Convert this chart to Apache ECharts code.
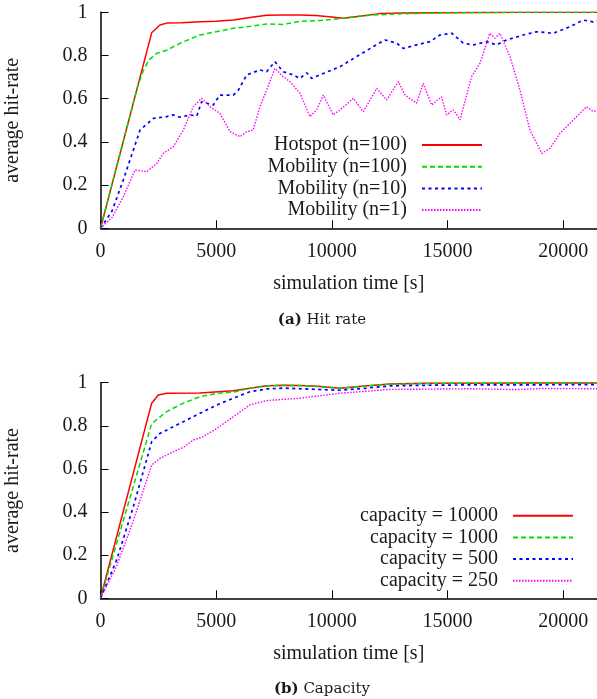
<!DOCTYPE html>
<html>
<head>
<meta charset="utf-8">
<script src="https://cdn.jsdelivr.net/npm/echarts@6/dist/echarts.min.js"></script>
<style>
  html, body { margin: 0; padding: 0; background: #fff; }
  #main { width: 597px; height: 699px; }
</style>
</head>
<body>
<div id="main"></div>
<script>
// x ticks shared by both panels
var xTicks = [0, 5000, 10000, 15000, 20000];
var xMax = 21460;

// (a) hit rate
var hotT = [0, 2212, 2570, 2860, 3500, 4300, 5000, 5740, 6460, 7180, 7900, 8600, 9300, 10000, 10480, 11200, 12150, 13000, 14500, 16000, 18000, 21460];
var hotV = [0, 0.905, 0.941, 0.950, 0.952, 0.956, 0.958, 0.964, 0.976, 0.986, 0.987, 0.987, 0.985, 0.978, 0.972, 0.982, 0.995, 0.997, 0.998, 0.999, 1.0, 1.0];

var mob100T = [0, 1600, 1850, 2100, 2430, 2860, 3500, 4300, 5000, 5740, 6500, 7180, 7900, 8620, 9500, 10500, 11650, 13000, 15000, 18000, 21460];
var mob100V = [0, 0.655, 0.73, 0.78, 0.81, 0.824, 0.86, 0.895, 0.91, 0.926, 0.935, 0.946, 0.944, 0.958, 0.962, 0.972, 0.987, 0.993, 0.998, 1.0, 1.0];

var mob10T = [0, 500, 985, 1710, 2280, 2860, 3140, 3440, 3870, 4160, 4370, 4875, 5160, 5740, 5960, 6320, 6890, 7180, 7540, 7900, 8330, 8620, 8910, 9130, 9630, 10350, 11070, 11790, 12290, 12800, 13090, 13660, 14240, 14670, 15180, 15680, 16110, 16690, 17120, 17550, 18270, 18850, 19570, 20290, 20860, 21300, 21460];
var mob10V = [0, 0.08, 0.224, 0.455, 0.509, 0.517, 0.525, 0.514, 0.525, 0.52, 0.586, 0.571, 0.617, 0.617, 0.64, 0.71, 0.733, 0.725, 0.771, 0.725, 0.71, 0.694, 0.72, 0.694, 0.717, 0.748, 0.795, 0.841, 0.872, 0.857, 0.833, 0.849, 0.864, 0.895, 0.903, 0.857, 0.849, 0.864, 0.849, 0.872, 0.895, 0.91, 0.903, 0.933, 0.964, 0.956, 0.96];

var mob1T = [0, 500, 985, 1490, 2000, 2430, 2710, 3150, 3580, 4010, 4370, 4730, 5160, 5600, 6030, 6320, 6600, 6890, 7180, 7540, 7900, 8190, 8620, 9050, 9340, 9630, 10060, 10350, 10930, 11360, 11940, 12370, 12870, 13160, 13660, 13950, 14310, 14740, 14960, 15250, 15540, 16040, 16400, 16830, 17050, 17260, 17700, 18130, 18560, 19070, 19430, 19860, 20290, 20720, 21010, 21300, 21460];
var mob1V = [0, 0.05, 0.146, 0.27, 0.262, 0.30, 0.347, 0.378, 0.455, 0.563, 0.602, 0.563, 0.532, 0.447, 0.424, 0.447, 0.455, 0.563, 0.64, 0.74, 0.702, 0.679, 0.625, 0.517, 0.548, 0.617, 0.525, 0.548, 0.602, 0.54, 0.648, 0.594, 0.679, 0.617, 0.579, 0.671, 0.571, 0.609, 0.525, 0.548, 0.502, 0.702, 0.764, 0.903, 0.88, 0.903, 0.795, 0.64, 0.455, 0.347, 0.37, 0.44, 0.486, 0.532, 0.563, 0.54, 0.545];

// (b) capacity
var cap10000T = [0, 2212, 2500, 2860, 4300, 5740, 6460, 7180, 7900, 8620, 9400, 10350, 11400, 12510, 14000, 16000, 19000, 21460];
var cap10000V = [0, 0.905, 0.943, 0.951, 0.952, 0.963, 0.974, 0.986, 0.988, 0.987, 0.984, 0.974, 0.985, 0.994, 0.997, 0.998, 0.999, 0.999];

var cap1000T = [0, 2212, 2860, 3580, 4300, 5030, 5740, 6460, 7180, 8000, 9000, 10350, 11500, 12500, 15000, 21460];
var cap1000V = [0, 0.81, 0.866, 0.905, 0.935, 0.951, 0.956, 0.974, 0.985, 0.988, 0.985, 0.974, 0.985, 0.993, 0.997, 0.998];

var cap500T = [0, 700, 1420, 2212, 2570, 3580, 4300, 5030, 5740, 6460, 7180, 7900, 8620, 10350, 11500, 12510, 14000, 16000, 18000, 21460];
var cap500V = [0, 0.178, 0.425, 0.726, 0.765, 0.819, 0.858, 0.897, 0.928, 0.958, 0.971, 0.975, 0.972, 0.965, 0.975, 0.985, 0.988, 0.99, 0.99, 0.991];

var cap250T = [0, 700, 1420, 2212, 2570, 3150, 3580, 4010, 4440, 5030, 5740, 6460, 7180, 8620, 10350, 12510, 14000, 16000, 18000, 19000, 21460];
var cap250V = [0, 0.15, 0.36, 0.618, 0.649, 0.68, 0.70, 0.734, 0.75, 0.788, 0.842, 0.897, 0.917, 0.928, 0.951, 0.969, 0.970, 0.972, 0.968, 0.973, 0.972];

function zip(t, v) {
  return t.map(function (x, i) { return [x, v[i]]; });
}

var serif = 'Liberation Serif';
var ink = '#1a1a1a';

function xAxisFor(gridIndex) {
  return {
    type: 'value', gridIndex: gridIndex, min: 0, max: xMax,
    name: 'simulation time [s]', nameLocation: 'middle', nameGap: 45,
    nameTextStyle: { fontFamily: serif, fontSize: 20, color: ink },
    axisLine: { lineStyle: { color: '#000', width: 1.5 } },
    axisTick: { inside: true, length: 8, customValues: xTicks, lineStyle: { color: '#000', width: 1 } },
    axisLabel: {
      customValues: xTicks, margin: 13, fontFamily: serif, fontSize: 20, color: ink,
      formatter: function (v) { return String(v); }
    },
    splitLine: { show: false }
  };
}

function yAxisFor(gridIndex) {
  return {
    type: 'value', gridIndex: gridIndex, min: 0, max: 1, interval: 0.2,
    name: 'average hit-rate', nameLocation: 'middle', nameGap: 78,
    nameTextStyle: { fontFamily: serif, fontSize: 20, color: ink },
    axisLine: { show: true, lineStyle: { color: '#000', width: 1.5 } },
    axisTick: { show: true, inside: true, length: 8, lineStyle: { color: '#000', width: 1 } },
    axisLabel: { margin: 13, fontFamily: serif, fontSize: 20, color: ink },
    splitLine: { show: false }
  };
}

function line(name, idx, data, color, dash, width) {
  return {
    name: name, type: 'line', xAxisIndex: idx, yAxisIndex: idx,
    data: data, symbol: 'none', smooth: false, animation: false,
    itemStyle: { color: color },
    lineStyle: { color: color, width: width, type: dash }
  };
}

function legendFor(names, right, top) {
  return {
    data: names, orient: 'vertical', align: 'right', padding: 0,
    right: right, top: top, itemWidth: 60, itemHeight: 14, itemGap: 1.7,
    itemStyle: { opacity: 0 },
    textStyle: { fontFamily: serif, fontSize: 20, color: ink, lineHeight: 20, padding: [0, 10, 0, 0] }
  };
}

var chart = echarts.init(document.getElementById('main'), null, { renderer: 'canvas' });

chart.setOption({
  backgroundColor: '#fff',
  animation: false,
  grid: [
    { left: 100.5, top: 12.3, width: 496.5, height: 216, outerBoundsMode: 'none', containLabel: false },
    { left: 100.5, top: 382.7, width: 496.5, height: 215.6, outerBoundsMode: 'none', containLabel: false }
  ],
  xAxis: [xAxisFor(0), xAxisFor(1)],
  yAxis: [yAxisFor(0), yAxisFor(1)],
  legend: [
    legendFor(['Hotspot (n=100)', 'Mobility (n=100)', 'Mobility (n=10)', 'Mobility (n=1)'], 114, 135),
    legendFor(['capacity = 10000', 'capacity = 1000', 'capacity = 500', 'capacity = 250'], 23, 505.7)
  ],
  title: [
    {
      text: '{b|(a)} Hit rate', left: 317, top: 308, textAlign: 'center',
      textStyle: { fontFamily: 'DejaVu Serif', fontSize: 15, fontWeight: 'normal', color: ink,
        rich: { b: { fontFamily: 'DejaVu Serif', fontSize: 15, fontWeight: 'bold', color: ink } } }
    },
    {
      text: '{b|(b)} Capacity', left: 317, top: 677, textAlign: 'center',
      textStyle: { fontFamily: 'DejaVu Serif', fontSize: 15, fontWeight: 'normal', color: ink,
        rich: { b: { fontFamily: 'DejaVu Serif', fontSize: 15, fontWeight: 'bold', color: ink } } }
    }
  ],
  series: [
    line('Hotspot (n=100)', 0, zip(hotT, hotV), '#ff0000', 'solid', 1.5),
    line('Mobility (n=100)', 0, zip(mob100T, mob100V), '#00dd00', [5, 3], 1.5),
    line('Mobility (n=10)', 0, zip(mob10T, mob10V), '#0000ff', [3, 3.5], 1.7),
    line('Mobility (n=1)', 0, zip(mob1T, mob1V), '#ff00ff', [1.5, 1.5], 1.4),
    line('capacity = 10000', 1, zip(cap10000T, cap10000V), '#ff0000', 'solid', 1.5),
    line('capacity = 1000', 1, zip(cap1000T, cap1000V), '#00dd00', [5, 3], 1.5),
    line('capacity = 500', 1, zip(cap500T, cap500V), '#0000ff', [3, 3.5], 1.7),
    line('capacity = 250', 1, zip(cap250T, cap250V), '#ff00ff', [1.5, 1.5], 1.4)
  ]
});
</script>
</body>
</html>
